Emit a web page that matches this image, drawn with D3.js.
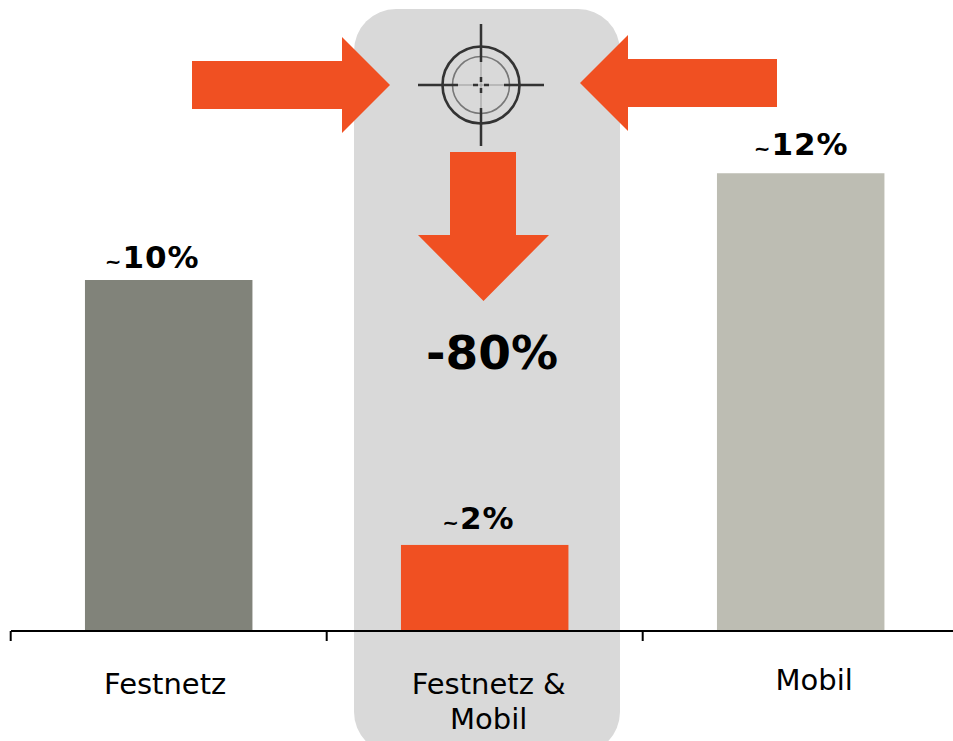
<!DOCTYPE html>
<html><head><meta charset="utf-8">
<script src="https://cdn.jsdelivr.net/npm/d3@7"></script>
<style>html,body{margin:0;padding:0;background:#fff;overflow:hidden}svg{display:block}text{font-family:"DejaVu Sans",sans-serif;fill:#000}</style>
</head><body><div id="c"></div>
<script>
const categories = ["Festnetz", "Festnetz & Mobil", "Mobil"];
const barHeights = [10, 2.43, 13.05];
const valueLabels = ["10%", "2%", "12%"];
const barColors = ["#81837a", "#f05022", "#bdbdb3"];
const axisLines = [["Festnetz"], ["Festnetz &", "Mobil"], ["Mobil"]];
const changeLabel = "-80%";

const W = 953, H = 741, base = 630;
const svg = d3.select("#c").append("svg").attr("width", W).attr("height", H);
const x = d3.scaleBand().domain(categories).range([10.7, 958.7]).paddingInner(0.47).paddingOuter(0.235);
const y = d3.scaleLinear().domain([0, 10]).range([base, 280]);

// highlight
svg.append("rect").attr("x", 354).attr("y", 9).attr("width", 266).attr("height", 745).attr("rx", 42).attr("fill", "#d9d9d9");

// bars
svg.selectAll("rect.bar").data(categories).join("rect").attr("class", "bar")
  .attr("x", d => x(d)).attr("width", x.bandwidth())
  .attr("y", (d, i) => y(barHeights[i])).attr("height", (d, i) => base - y(barHeights[i]))
  .attr("fill", (d, i) => barColors[i]);

// value labels
const valDx = [-64, -42.5, -47], valDy = [12, 16, 18];
const vl = svg.selectAll("text.val").data(categories).join("text").attr("class", "val")
  .attr("x", (d, i) => x(d) + x.bandwidth() / 2 + valDx[i]).attr("y", (d, i) => y(barHeights[i]) - valDy[i])
  .attr("font-weight", "bold").attr("font-size", 31).attr("letter-spacing", 1);
vl.append("tspan").attr("font-size", 20).text("~");
vl.append("tspan").text((d, i) => valueLabels[i]);

// axis
const ax = svg.append("g");
ax.append("line").attr("x1", 11).attr("x2", 953).attr("y1", 631).attr("y2", 631).attr("stroke", "#000").attr("stroke-width", 2);
const step = x.step();
ax.selectAll("line.t").data(categories).join("line").attr("class", "t")
  .attr("x1", d => x(d) - step * 0.235).attr("x2", d => x(d) - step * 0.235)
  .attr("y1", 631).attr("y2", 641).attr("stroke", "#000").attr("stroke-width", 2);

// category labels
const labelDx = [-3.5, 4, 13.5], labelY = [694, 694, 690];
const cl = svg.selectAll("text.cat").data(categories).join("text").attr("class", "cat")
  .attr("text-anchor", "middle").attr("font-size", 29);
cl.selectAll("tspan").data((d, i) => axisLines[i].map(t => ({t, i, d}))).join("tspan")
  .attr("x", o => x(o.d) + x.bandwidth() / 2 + labelDx[o.i])
  .attr("y", (o, k) => labelY[o.i] + k * 35)
  .text(o => o.t);

// arrows
const arrow = "#f05022";
svg.append("polygon").attr("fill", arrow).attr("points", "192,61 342,61 342,37 390,85 342,133 342,109 192,109");
svg.append("polygon").attr("fill", arrow).attr("points", "777,59 628,59 628,35 580,83 628,131 628,107 777,107");
svg.append("polygon").attr("fill", arrow).attr("points", "450,152 516,152 516,235 549,235 483.5,301 418,235 450,235");

svg.append("text").attr("x", 492).attr("y", 369).attr("text-anchor", "middle").attr("font-weight", "bold").attr("font-size", 47).text(changeLabel);

// crosshair
const g = svg.append("g").attr("transform", "translate(481,85)").attr("fill", "none");
g.append("circle").attr("r", 38.5).attr("stroke", "#333").attr("stroke-width", 2.6);
g.append("circle").attr("r", 28.5).attr("stroke", "#777").attr("stroke-width", 1.6);
g.append("path").attr("stroke", "#999").attr("stroke-width", 1).attr("d", "M-23,0H23M0,-23V23");
g.append("path").attr("stroke", "#333").attr("stroke-width", 2.5)
  .attr("d", "M-63,0H-23M23,0H63M0,-61V-23M0,23V61M-8,0H-3M3,0H8M0,-8V-3M0,3V8");
</script></body></html>
